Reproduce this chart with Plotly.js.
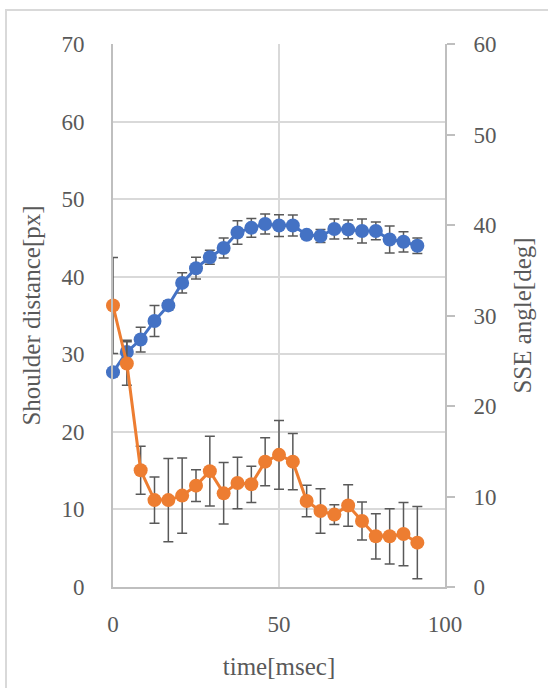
<!DOCTYPE html>
<html>
<head>
<meta charset="utf-8">
<script src="https://cdn.plot.ly/plotly-3.0.1.min.js"></script>
<style>
  html, body { margin: 0; padding: 0; background: #ffffff; }
  #wrap { position: relative; width: 548px; height: 688px; overflow: hidden; }
  #chart { position: absolute; left: 0; top: 0; width: 548px; height: 688px; }
  #frame { position: absolute; left: 5px; top: 9px; width: 600px; height: 700px;
           border: 2px solid #d9d9d9; pointer-events: none; box-sizing: border-box; }
</style>
</head>
<body>
<div id="wrap">
  <div id="chart"></div>
  <div id="frame"></div>
</div>
<script>
// time points (msec)
const timeMs = [0, 4.17, 8.33, 12.5, 16.67, 20.83, 25, 29.17, 33.33, 37.5, 41.67, 45.83,
                50, 54.17, 58.33, 62.5, 66.67, 70.83, 75, 79.17, 83.33, 87.5, 91.67];

// Shoulder distance [px] (left axis)
const shoulderDist = [27.7, 30.3, 31.9, 34.3, 36.3, 39.2, 41.1, 42.5, 43.7, 45.7, 46.3, 46.8,
                      46.6, 46.6, 45.4, 45.25, 46.15, 46.1, 45.9, 45.9, 44.8, 44.5, 44.0];
const shoulderErr  = [0.6, 1.5, 1.6, 2.0, 0.6, 1.3, 1.4, 0.9, 1.3, 1.5, 1.2, 1.3,
                      1.4, 1.35, 0.5, 0.85, 1.3, 1.2, 1.55, 1.15, 1.75, 1.3, 1.0];

// SSE angle [deg] (right axis)
const sseAngle = [31.1, 24.7, 12.9, 9.6, 9.6, 10.1, 11.2, 12.8, 10.35, 11.5, 11.35, 13.85,
                  14.6, 13.85, 9.5, 8.4, 8.0, 9.0, 7.3, 5.6, 5.6, 5.85, 4.9];
const sseErr   = [5.3, 2.4, 2.65, 2.55, 4.6, 4.15, 1.75, 3.85, 3.4, 2.85, 2.0, 2.65,
                  3.8, 3.1, 1.75, 2.45, 1.1, 2.3, 2.1, 2.5, 3.05, 3.5, 4.0];

const xTicks = [0, 50, 100];
const leftTicks = [0, 10, 20, 30, 40, 50, 60, 70];
const rightTicks = [0, 10, 20, 30, 40, 50, 60];

const FONT = "Liberation Serif, DejaVu Serif, serif";
const TXT = "#595959";

const traces = [
  {
    name: "Shoulder distance",
    x: timeMs, y: shoulderDist, type: "scatter", mode: "lines+markers",
    line: { color: "#4472C4", width: 3 },
    marker: { color: "#4472C4", size: 14 },
    error_y: { type: "data", array: shoulderErr, visible: true, color: "#595959", thickness: 1.5, width: 5 },
    yaxis: "y", cliponaxis: false
  },
  {
    name: "SSE angle",
    x: timeMs, y: sseAngle, type: "scatter", mode: "lines+markers",
    line: { color: "#ED7D31", width: 3 },
    marker: { color: "#ED7D31", size: 14 },
    error_y: { type: "data", array: sseErr, visible: true, color: "#595959", thickness: 1.5, width: 5 },
    yaxis: "y2", cliponaxis: false
  }
];

const layout = {
  width: 548, height: 688,
  margin: { l: 113, r: 103, t: 44, b: 101, pad: 0 },
  paper_bgcolor: "rgba(0,0,0,0)",
  plot_bgcolor: "#ffffff",
  showlegend: false,
  font: { family: FONT, size: 23, color: TXT },
  xaxis: {
    range: [0, 100], tickvals: xTicks, ticktext: xTicks.map(String),
    showgrid: true, gridcolor: "#d9d9d9", gridwidth: 2,
    showline: true, linecolor: "#bfbfbf", linewidth: 2,
    zeroline: false, ticks: "", ticklabelstandoff: 15,
    tickfont: { family: FONT, size: 23, color: TXT },
    title: { text: "time[msec]", font: { family: FONT, size: 25, color: TXT }, standoff: 22 }
  },
  yaxis: {
    range: [0, 70], tickvals: leftTicks, ticktext: leftTicks.map(String),
    showgrid: true, gridcolor: "#d9d9d9", gridwidth: 2,
    showline: true, linecolor: "#bfbfbf", linewidth: 2,
    zeroline: false, ticks: "", ticklabelstandoff: 22,
    tickfont: { family: FONT, size: 23, color: TXT },
    title: { text: "Shoulder distance[px]", font: { family: FONT, size: 25, color: TXT }, standoff: 14 }
  },
  yaxis2: {
    range: [0, 60], tickvals: rightTicks, ticktext: rightTicks.map(String),
    overlaying: "y", side: "right",
    showgrid: false, zeroline: false,
    showline: true, linecolor: "#bfbfbf", linewidth: 2,
    ticks: "outside", ticklen: 8, tickwidth: 2, tickcolor: "#bfbfbf",
    ticklabelstandoff: 14,
    tickfont: { family: FONT, size: 23, color: TXT },
    title: { text: "SSE angle[deg]", font: { family: FONT, size: 25, color: TXT }, standoff: 18 }
  }
};

Plotly.newPlot("chart", traces, layout, { displayModeBar: false, staticPlot: true });
</script>
</body>
</html>
